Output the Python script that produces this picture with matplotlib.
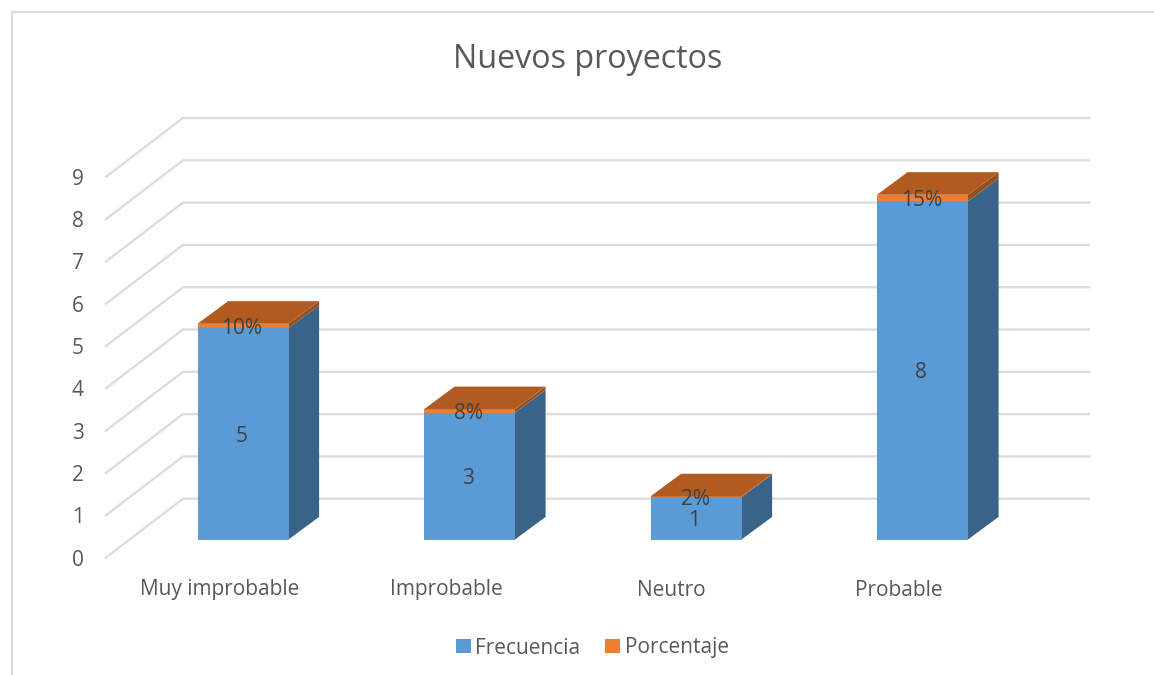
# coding=utf-8
import matplotlib
matplotlib.use('Agg')
import matplotlib.pyplot as plt
from matplotlib.patches import Polygon, Rectangle

categories = ['Muy improbable', 'Improbable', 'Neutro', 'Probable']
frecuencia = [5, 3, 1, 8]
porcentaje = [0.10, 0.08, 0.02, 0.15]
porcentaje_labels = ['10%', '8%', '2%', '15%']
y_ticks = list(range(10))

BLUE, BLUE_SIDE = '#5B9BD5', '#3A6487'
ORANGE, ORANGE_TOP, ORANGE_SIDE = '#ED7D31', '#B15B20', '#96501F'
GRID = '#DCDCDC'
TEXT = '#595959'
LABEL = '#404040'

plt.rcParams['font.family'] = ['Open Sans', 'DejaVu Sans']

W, H = 1154, 675
fig = plt.figure(figsize=(W / 100, H / 100), dpi=100)
ax = fig.add_axes([0, 0, 1, 1])

# data units: one category = 226.5 px, one value = 42.3 px
UX, UY = 226.5, 42.3
BASE = 539.5
ax.set_xlim((0 - 243) / UX, (W - 243) / UX)
ax.set_ylim((BASE - H) / UY, BASE / UY)
ax.axis('off')


def px(x):
    return (x - 243) / UX


def py(y):
    return (BASE - y) / UY


# chart frame
ax.plot([px(12.5), px(12.5), px(W)], [py(H), py(12), py(12)], color=GRID, lw=1.6, zorder=1)

# gridlines: side wall then back wall
for v in y_ticks:
    ax.plot([px(106), px(183), px(1089)],
            [py(557.5) + v, py(498.7) + v, py(498.7) + v],
            color=GRID, lw=1.7, zorder=1, solid_joinstyle='miter')

bar_w = 91 / UX
dx, dy = 30.6 / UX, 22.6 / UY
label_shift = 2.5 / UY


def box(x0, bottom, top, front, side, cap, z):
    x1 = x0 + bar_w
    ax.add_patch(Polygon([(x1, bottom), (x1 + dx, bottom + dy), (x1 + dx, top + dy), (x1, top)],
                         facecolor=side, edgecolor='none', zorder=z))
    ax.add_patch(Rectangle((x0, bottom), bar_w, top - bottom, facecolor=front,
                           edgecolor='none', zorder=z))
    if cap is not None:
        ax.add_patch(Polygon([(x0, top), (x0 + dx, top + dy), (x1 + dx, top + dy), (x1, top)],
                             facecolor=cap, edgecolor='none', zorder=z))


for i, (f, p) in enumerate(zip(frecuencia, porcentaje)):
    x0 = i - bar_w / 2
    box(x0, 0, f, BLUE, BLUE_SIDE, None, 3)
    box(x0, f, f + p, ORANGE, ORANGE_SIDE, ORANGE_TOP, 4)
    ax.text(i - 1.5 / UX, f / 2 - label_shift, str(f), ha='center', va='center', fontsize=15,
            color=LABEL, zorder=6)
    ax.text(i - 1 / UX, f + p / 2 - label_shift, porcentaje_labels[i], ha='center', va='center',
            fontsize=15, color=LABEL, zorder=6)

for v in y_ticks:
    ax.text(px(78), py(559) + v - 1 / UY, str(v), ha='center', va='center', fontsize=15, color=TEXT)

for i, name in enumerate(categories):
    ax.text(i - (25 if name == 'Neutro' else 23.5) / UX, py(590), name,
            ha='center', va='center', fontsize=15, color=TEXT)

ax.text(px(588), py(59), 'Nuevos proyectos', ha='center', va='center', fontsize=23.2, color=TEXT)

# legend
for xs, xt, col, name in [(456, 475, BLUE, 'Frecuencia'), (605, 625, ORANGE, 'Porcentaje')]:
    ax.add_patch(Rectangle((px(xs), py(653)), 14.5 / UX, 14 / UY, facecolor=col, edgecolor='none'))
    ax.text(px(xt), py(648), name, ha='left', va='center', fontsize=15, color=TEXT)

fig.savefig('out.png', dpi=100)
